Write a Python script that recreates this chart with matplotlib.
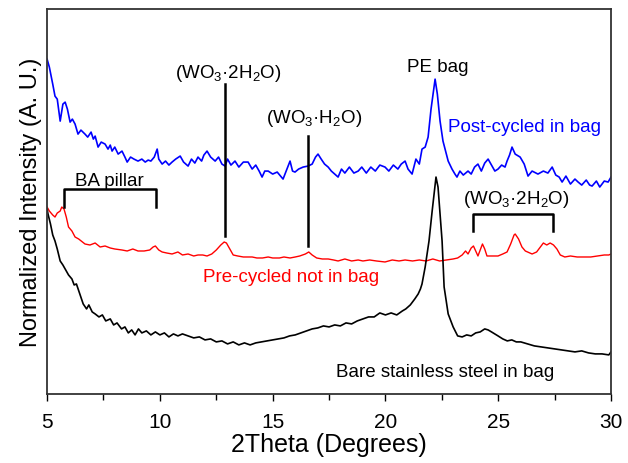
import matplotlib.pyplot as plt
import numpy as np

plt.rcParams['font.family'] = ['Liberation Sans', 'DejaVu Sans']
plt.rcParams['mathtext.fontset'] = 'custom'
plt.rcParams['mathtext.rm'] = 'Liberation Sans'
plt.rcParams['mathtext.it'] = 'Liberation Sans'

# 2Theta (deg) and offset intensity (a.u., larger = lower on the plot)
post_x = [5.00, 5.10, 5.25, 5.35, 5.45, 5.58, 5.70, 5.80, 5.90, 6.02, 6.12, 6.24, 6.37, 6.50, 6.68, 6.80,
          6.95, 7.05, 7.13, 7.26, 7.40, 7.57, 7.70, 7.80, 7.88, 8.00, 8.15, 8.32, 8.45, 8.55, 8.70, 8.85,
          9.03, 9.20, 9.35, 9.48, 9.60, 9.75, 9.88, 9.95, 10.10, 10.25, 10.40, 10.54, 10.70, 10.90, 11.05,
          11.25, 11.40, 11.55, 11.69, 11.85, 11.95, 12.09, 12.25, 12.45, 12.60, 12.75, 12.89, 13.00, 13.15,
          13.33, 13.50, 13.70, 13.91, 14.09, 14.25, 14.40, 14.53, 14.65, 14.80, 15.00, 15.20, 15.35, 15.46,
          15.60, 15.77, 15.88, 15.99, 16.15, 16.35, 16.57, 16.75, 16.90, 17.01, 17.15, 17.30, 17.46, 17.60,
          17.75, 17.90, 18.05, 18.20, 18.40, 18.60, 18.79, 18.95, 19.15, 19.35, 19.55, 19.75, 19.98, 20.15,
          20.35, 20.55, 20.70, 20.87, 21.00, 21.18, 21.35, 21.50, 21.62, 21.76, 21.89, 22.02, 22.20, 22.30,
          22.42, 22.55, 22.78, 22.95, 23.08, 23.17, 23.30, 23.45, 23.66, 23.80, 23.95, 24.10, 24.25, 24.40,
          24.55, 24.70, 24.85, 24.99, 25.15, 25.30, 25.39, 25.50, 25.61, 25.75, 25.97, 26.15, 26.32, 26.50,
          26.76, 27.00, 27.20, 27.39, 27.55, 27.70, 27.83, 28.00, 28.20, 28.40, 28.54, 28.70, 28.90, 29.05,
          29.16, 29.35, 29.50, 29.70, 29.87, 30.00]
post_y = [60, 68, 85, 97, 100, 122, 105, 103, 110, 123, 120, 125, 135, 131, 135, 138,
          133, 140, 137, 148, 143, 145, 150, 146, 152, 148, 155, 152, 158, 163, 158, 160,
          162, 160, 163, 161, 162, 158, 150, 160, 165, 162, 166, 163, 160, 157, 163,
          167, 160, 164, 158, 162, 156, 152, 158, 162, 158, 165, 167, 160, 166,
          162, 168, 163, 163, 170, 166, 172, 178, 172, 172, 175, 173, 177, 180,
          172, 162, 172, 173, 170, 168, 167, 165, 158, 155, 160, 165, 168, 172,
          175, 178, 170, 174, 168, 174, 172, 168, 174, 168, 172, 166, 168, 172,
          166, 170, 165, 162, 170, 175, 160, 165, 150, 148, 138, 110, 80, 95,
          122, 142, 162, 170, 175, 178, 172, 176, 172, 175, 168, 165, 172, 164,
          160, 166, 172, 170, 166, 168, 162, 156, 148, 155, 158, 165, 177, 172,
          175, 172, 174, 168, 176, 178, 183, 177, 185, 180, 183, 186, 181, 186,
          187, 182, 188, 182, 183, 178]

pre_x = [5.00, 5.10, 5.25, 5.35, 5.45, 5.58, 5.65, 5.75, 5.85, 5.95, 6.10, 6.24, 6.40, 6.68, 6.90, 7.13,
         7.35, 7.57, 7.80, 8.00, 8.32, 8.55, 8.80, 9.03, 9.30, 9.55, 9.70, 9.80, 9.95, 10.10, 10.30,
         10.54, 10.80, 11.00, 11.25, 11.50, 11.69, 11.90, 12.09, 12.30, 12.50, 12.70, 12.85, 12.95, 13.10,
         13.25, 13.45, 13.70, 13.91, 14.09, 14.30, 14.55, 14.80, 15.00, 15.30, 15.50, 15.77, 16.00, 16.20,
         16.45, 16.60, 16.75, 16.95, 17.20, 17.46, 17.70, 17.90, 18.20, 18.50, 18.79, 19.00, 19.30, 19.60,
         19.98, 20.30, 20.60, 20.87, 21.20, 21.50, 21.80, 22.10, 22.40, 22.70, 23.00, 23.20, 23.40, 23.55,
         23.66, 23.80, 23.90, 24.00, 24.10, 24.25, 24.30, 24.40, 24.50, 24.70, 24.99, 25.20, 25.39, 25.55,
         25.70, 25.75, 25.90, 26.05, 26.20, 26.50, 26.70, 26.90, 27.00, 27.15, 27.30, 27.45, 27.60, 27.75,
         27.95, 28.20, 28.50, 28.80, 29.10, 29.40, 29.70, 29.90, 30.00]
pre_y = [208, 212, 216, 218, 214, 212, 208, 210, 218, 228, 232, 238, 240, 245, 246, 244,
         248, 247, 249, 250, 251, 252, 250, 252, 252, 251, 248, 247, 251, 253, 254,
         255, 253, 256, 255, 257, 256, 256, 257, 255, 251, 246, 243, 244, 250,
         256, 257, 258, 258, 258, 259, 259, 258, 259, 259, 258, 259, 258, 257,
         255, 253, 256, 259, 260, 260, 261, 262, 260, 262, 261, 262, 261, 262,
         263, 261, 262, 261, 262, 261, 262, 260, 262, 261, 260, 259, 256, 252,
         255, 249, 247, 252, 257, 248, 245, 250, 257, 257, 257, 255, 253, 245,
         236, 235, 240, 248, 252, 255, 253, 247, 244, 246, 244, 246, 250, 256,
         258, 257, 258, 258, 258, 257, 256, 256, 255]

bare_x = [5.00, 5.04, 5.15, 5.25, 5.35, 5.45, 5.58, 5.70, 5.80, 5.95, 6.10, 6.20, 6.30, 6.45, 6.60, 6.75,
          6.85, 7.00, 7.13, 7.30, 7.45, 7.60, 7.80, 7.95, 8.10, 8.30, 8.45, 8.60, 8.75, 8.90, 9.05, 9.20,
          9.40, 9.60, 9.80, 10.00, 10.20, 10.40, 10.60, 10.80, 11.00, 11.25, 11.50, 11.75, 12.00, 12.25,
          12.50, 12.75, 13.00, 13.25, 13.50, 13.75, 14.00, 14.25, 14.50, 14.75, 15.00, 15.25, 15.50, 15.75,
          16.00, 16.25, 16.50, 16.75, 17.00, 17.25, 17.50, 17.75, 18.00, 18.25, 18.50, 18.75, 19.00, 19.25,
          19.50, 19.75, 20.00, 20.25, 20.50, 20.75, 20.90, 21.10, 21.30, 21.45, 21.55, 21.62, 21.76, 21.93,
          22.07, 22.24, 22.33, 22.51, 22.60, 22.78, 23.00, 23.20, 23.40, 23.60, 23.80, 24.00, 24.20, 24.40,
          24.55, 24.70, 24.99, 25.20, 25.40, 25.60, 25.80, 26.00, 26.30, 26.60, 26.90, 27.20, 27.50, 27.80,
          28.10, 28.40, 28.70, 29.00, 29.30, 29.60, 29.90, 30.00]
bare_y = [210, 215, 225, 236, 242, 250, 262, 266, 270, 276, 280, 286, 285, 295, 305, 310,
          306, 313, 315, 318, 316, 322, 320, 326, 324, 330, 328, 334, 331, 336, 330, 334,
          332, 336, 333, 336, 334, 338, 335, 337, 335, 337, 339, 338, 341, 340,
          343, 342, 345, 343, 346, 344, 346, 344, 343, 342, 341, 340, 339, 337,
          336, 334, 332, 330, 329, 327, 328, 326, 327, 324, 325, 322, 320, 318,
          318, 314, 316, 314, 316, 312, 310, 306, 300, 295, 290, 285, 268, 242,
          212, 178, 188, 242, 288, 315, 328, 337, 338, 336, 337, 334, 333, 330,
          331, 333, 337, 340, 342, 341, 343, 343, 345, 347, 348, 349, 350, 351,
          352, 353, 352, 354, 355, 355, 356, 353]

fig, ax = plt.subplots(figsize=(6.28, 4.64), dpi=100)
fig.subplots_adjust(left=0.075, right=0.973, bottom=0.149, top=0.978)

ax.plot(post_x, post_y, color='#0000ff', lw=1.2)
ax.plot(pre_x, pre_y, color='#ff0000', lw=1.0)
ax.plot(bare_x, bare_y, color='black', lw=1.2)

ax.set_xlim(5, 30)
ax.set_ylim(395, 10)
ax.set_xticks([5, 10, 15, 20, 25, 30])
ax.set_xticks([7.5, 12.5, 17.5, 22.5, 27.5], minor=True)
ax.set_yticks([])
ax.tick_params(axis='x', which='major', direction='out', length=5, width=1, labelsize=15, pad=8)
ax.tick_params(axis='x', which='minor', direction='out', length=4, width=1)
for s in ax.spines.values():
    s.set_linewidth(1.3)
    s.set_color('#333333')

ax.set_xlabel('2Theta (Degrees)', fontsize=18, labelpad=1)
ax.set_ylabel('Normalized Intensity (A. U.)', fontsize=17, labelpad=4)

fs = 13.5
# peak markers
ax.plot([12.89, 12.89], [85, 237], color='black', lw=1.8)
ax.plot([16.57, 16.57], [137, 247], color='black', lw=1.8)
ax.text(12.95, 73, ' (WO$_3$·2H$_2$O) ', fontsize=fs, ha='center', va='center')
ax.text(16.75, 118, ' (WO$_3$·H$_2$O) ', fontsize=fs, ha='center', va='center')
ax.text(22.3, 67, 'PE bag', fontsize=fs, ha='center', va='center')
ax.text(22.75, 127, 'Post-cycled in bag', fontsize=fs, ha='left', va='center', color='#0000ff')

# brackets
ax.plot([5.75, 5.75, 9.83, 9.83], [208, 190, 190, 208], color='black', lw=1.8)
ax.text(7.75, 181, 'BA pillar', fontsize=fs, ha='center', va='center')
ax.plot([23.88, 23.88, 27.43, 27.43], [232, 215, 215, 232], color='black', lw=1.8)
ax.text(25.7, 199, ' (WO$_3$·2H$_2$O) ', fontsize=fs, ha='center', va='center')

ax.text(15.82, 278, 'Pre-cycled not in bag', fontsize=fs, ha='center', va='center', color='#ff0000')
ax.text(22.64, 373, 'Bare stainless steel in bag', fontsize=fs, ha='center', va='center')

fig.savefig('out.png', dpi=100)
